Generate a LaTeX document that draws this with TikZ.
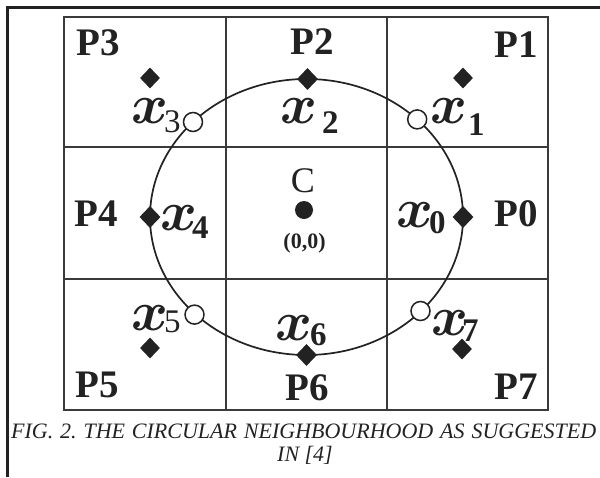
\RequirePackage{fix-cm}
\documentclass[tikz,border=0pt]{standalone}
\usepackage{fontspec}
\setmainfont{Liberation Serif}
\usetikzlibrary{shapes.geometric,calc}
\definecolor{ink}{HTML}{222222}
\definecolor{gridc}{HTML}{3a3a3a}
\newcommand{\xlab}[3]{{\fontsize{56}{56}\selectfont\boldmath$x$}\hspace{#1}\raisebox{#2}{\fontsize{33}{33}\selectfont #3}}
\begin{document}
\begin{tikzpicture}[x=1pt,y=-1pt,
  frameline/.style={line width=3pt,draw=ink},
  gridline/.style={line width=2pt,draw=gridc},
  ring/.style={line width=1.7pt,draw=ink},
  plab/.style={font=\fontsize{39}{39}\selectfont\bfseries,text=ink,inner sep=0pt},
  xlabel/.style={text=ink,inner sep=0pt,anchor=base west},
  onpt/.style={diamond,fill=ink,draw=none,minimum width=21pt,minimum height=22pt,inner sep=0pt},
  offpt/.style={diamond,fill=ink,draw=none,minimum width=20pt,minimum height=21pt,inner sep=0pt},
  openpt/.style={circle,draw=ink,fill=white,line width=1.5pt,minimum size=19pt,inner sep=0pt},
  captext/.style={font=\fontsize{22}{22}\selectfont\itshape,text=ink,inner sep=0pt}]
\useasboundingbox (0,0) rectangle (600,477);
% outer frame (top and left)
\coordinate (fl) at (7.5,477);
\coordinate (ftl) at (7.5,7.5);
\coordinate (ftr) at (600,7.5);
\draw[frameline] (fl) -- (ftl) -- (ftr);
% grid
\draw[gridline] (64,17) rectangle (548,410);
\draw[gridline] (226,17) -- (226,410);
\draw[gridline] (386.5,17) -- (386.5,410);
\draw[gridline] (64,147) -- (548,147);
\draw[gridline] (64,279) -- (548,279);
% ellipse
\coordinate (c0) at (306.5,217);
\draw[ring] (c0) ellipse [x radius=156.5, y radius=138];
% points on the ring
\node[onpt] (p0) at ($(c0)+(156.5,0)$) {};
\node[onpt] (p2) at (307.5,79) {};
\node[onpt] (p4) at ($(c0)+(-156.5,0)$) {};
\node[onpt] (p6) at (306.5,355) {};
\node[openpt] (p1) at ($(c0)+(110.7,-97.6)$) {};
\node[openpt] (p3) at ($(c0)+(-113.5,-95)$) {};
\node[openpt] (p5) at ($(c0)+(-112,97.6)$) {};
\node[openpt] (p7) at ($(c0)+(114,94)$) {};
% pixel centres
\node[offpt] (q3) at (150,78) {};
\node[offpt] (q1) at (463,78) {};
\node[offpt] (q5) at (150,348) {};
\node[offpt] (q7) at (462,349) {};
% center
\node[circle,fill=ink,minimum size=18pt,inner sep=0pt] (cc) at (304,210) {};
\node[font=\fontsize{36}{36}\selectfont,text=ink,inner sep=0pt,anchor=base] (ctext) at (303,192) {C};
\node[font=\fontsize{22}{22}\selectfont\bfseries,text=ink,inner sep=0pt,anchor=base] (corig) at (304.5,248) {(0,0)};
% P labels
\node[plab] (P3) at (98,43) {P3};
\node[plab] (P2) at (312,42) {P2};
\node[plab] (P1) at (516,45) {P1};
\node[plab] (P4) at (96,214) {P4};
\node[plab] (P0) at (516,214) {P0};
\node[plab] (P5) at (97,385) {P5};
\node[plab] (P6) at (307,388) {P6};
\node[plab] (P7) at (516,387) {P7};
% x labels
\node[xlabel] (l3) at (131,123) {\xlab{-4pt}{-9pt}{3}};
\node[xlabel] (l2) at (280,123) {\xlab{5pt}{-10pt}{\bfseries 2}};
\node[xlabel] (l1) at (430,123) {\xlab{1pt}{-12pt}{\bfseries 1}};
\node[xlabel] (l0) at (396,227) {\xlab{-4pt}{-6pt}{\bfseries 0}};
\node[xlabel] (l4) at (160,230) {\xlab{-5pt}{-8pt}{\bfseries 4}};
\node[xlabel] (l5) at (131,330) {\xlab{-4pt}{-2pt}{5}};
\node[xlabel] (l6) at (275,340) {\xlab{-2pt}{-5pt}{\bfseries 6}};
\node[xlabel] (l7) at (431,335) {\xlab{-6pt}{-6pt}{\bfseries 7}};
% caption
\node[captext,anchor=base west] (cap1) at (11,438) {\makebox[585pt][s]{FIG.\ 2.\ THE CIRCULAR NEIGHBOURHOOD AS SUGGESTED}};
\node[captext,anchor=base] (cap2) at (305,461) {IN [4]};
\end{tikzpicture}
\end{document}
